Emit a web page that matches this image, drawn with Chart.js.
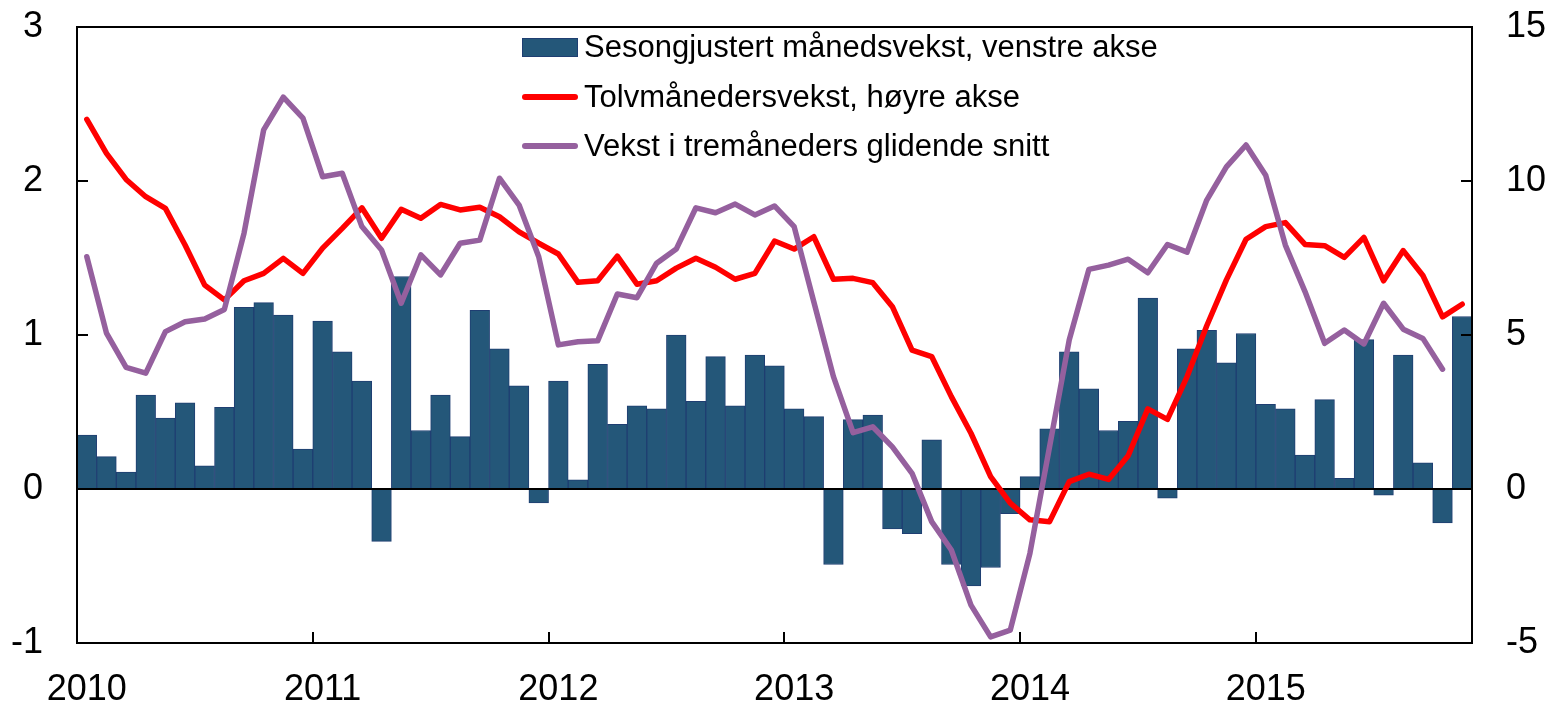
<!DOCTYPE html>
<html lang="no">
<head>
<meta charset="utf-8">
<title>Månedsvekst</title>
<script src="https://cdn.jsdelivr.net/npm/chart.js@4.4.1/dist/chart.umd.min.js"></script>
<style>
  html, body { margin: 0; padding: 0; background: #fff; }
  #wrap { position: relative; width: 1551px; height: 704px; }
  #chart { display: block; }
  #legende {
    position: absolute; left: 522px; top: 0;
    font-family: 'Liberation Sans', Arial, sans-serif; font-size: 31px; color: #000;
  }
  .leg-item { position: absolute; left: 0; height: 36px; display: flex; align-items: center; white-space: nowrap; }
  .leg-bar  { width: 54px; height: 17px; border: 1px solid #1F3E72; margin-right: 6px; }
  .leg-line { width: 56px; height: 6px; border-radius: 3px; margin-right: 6px; }
</style>
</head>
<body>
<div id="wrap">
  <canvas id="chart" width="1551" height="704"></canvas>
  <div id="legende"></div>
</div>

<script>
/* ---- Data ---- */
const aar = ['2010', '2011', '2012', '2013', '2014', '2015'];
const maaneder = ['01', '02', '03', '04', '05', '06', '07', '08', '09', '10', '11', '12'];
const sisteMaaned = '2015-11';

// Sesongjustert månedsvekst, venstre akse
const maanedsvekst = [
  0.35, 0.21, 0.11, 0.61, 0.46, 0.56, 0.15, 0.53, 1.18, 1.21, 1.13, 0.26,
  1.09, 0.89, 0.70, -0.34, 1.38, 0.38, 0.61, 0.34, 1.16, 0.91, 0.67, -0.09,
  0.70, 0.06, 0.81, 0.42, 0.54, 0.52, 1.00, 0.57, 0.86, 0.54, 0.87, 0.80,
  0.52, 0.47, -0.49, 0.45, 0.48, -0.26, -0.29, 0.32, -0.49, -0.63, -0.51, -0.16,
  0.08, 0.39, 0.89, 0.65, 0.38, 0.44, 1.24, -0.06, 0.91, 1.03, 0.82, 1.01,
  0.55, 0.52, 0.22, 0.58, 0.07, 0.97, -0.04, 0.87, 0.17, -0.22, 1.12,
];

// Tolvmånedersvekst, høyre akse
const tolvmaanedersvekst = [
  12.0, 10.9, 10.05, 9.49, 9.11, 7.92, 6.62, 6.14, 6.76, 7.0, 7.49, 7.0,
  7.82, 8.46, 9.13, 8.14, 9.08, 8.79, 9.24, 9.06, 9.15, 8.84, 8.35, 7.98,
  7.63, 6.71, 6.76, 7.56, 6.65, 6.76, 7.17, 7.49, 7.2, 6.81, 7.0, 8.05,
  7.79, 8.19, 6.81, 6.84, 6.70, 5.92, 4.51, 4.3, 3.0, 1.81, 0.4, -0.46,
  -1.0, -1.06, 0.24, 0.48, 0.31, 1.08, 2.6, 2.26, 3.65, 5.3, 6.79, 8.11,
  8.52, 8.65, 7.94, 7.9, 7.52, 8.17, 6.76, 7.74, 6.93, 5.59, 6.0,
];

// Vekst i tremåneders glidende snitt
const tremaanedersvekst = [
  7.54, 5.06, 3.95, 3.76, 5.11, 5.43, 5.52, 5.83, 8.3, 11.66, 12.72, 12.04,
  10.14, 10.25, 8.52, 7.76, 6.03, 7.6, 6.95, 7.98, 8.08, 10.09, 9.22, 7.54,
  4.68, 4.78, 4.81, 6.33, 6.21, 7.33, 7.79, 9.13, 8.97, 9.25, 8.9, 9.19,
  8.52, 6.08, 3.65, 1.83, 2.02, 1.37, 0.51, -1.06, -1.98, -3.77, -4.8, -4.58,
  -2.09, 1.37, 4.84, 7.13, 7.27, 7.46, 7.02, 7.94, 7.69, 9.38, 10.46, 11.17,
  10.19, 7.92, 6.41, 4.73, 5.16, 4.71, 6.03, 5.19, 4.89, 3.89, null,
];

/* ---- Styles ---- */
const FARGE_SOYLE  = '#245779';
const KANT_SOYLE   = '#1F3E72';
const FARGE_TOLV   = '#FF0000';
const FARGE_TRE    = '#95609E';
const TICK_LENGDE  = 11;

const etiketter = [];
aar.forEach(a => maaneder.forEach(m => {
  const lbl = `${a}-${m}`;
  if (lbl <= sisteMaaned) etiketter.push(lbl);
}));

Chart.defaults.font.family = "'Liberation Sans', Arial, sans-serif";
Chart.defaults.color = '#000';

/* Zero line between bars and lines, frame and inward ticks on top */
const rammePlugin = {
  id: 'ramme',
  afterDatasetDraw(chart, args) {
    if (args.index !== 0) return;
    const { ctx, chartArea: a, scales } = chart;
    const y0 = scales.y.getPixelForValue(0);
    ctx.save();
    ctx.strokeStyle = '#000';
    ctx.lineWidth = 2;
    ctx.beginPath();
    ctx.moveTo(a.left, y0);
    ctx.lineTo(a.right, y0);
    ctx.stroke();
    ctx.restore();
  },
  afterDraw(chart) {
    const { ctx, chartArea: a, scales } = chart;
    ctx.save();
    ctx.strokeStyle = '#000';
    ctx.lineWidth = 2;
    ctx.strokeRect(a.left, a.top, a.right - a.left, a.bottom - a.top);

    ctx.beginPath();
    scales.y.ticks.forEach(t => {
      const y = Math.round(scales.y.getPixelForValue(t.value));
      ctx.moveTo(a.left, y);
      ctx.lineTo(a.left + TICK_LENGDE, y);
    });
    scales.y2.ticks.forEach(t => {
      const y = Math.round(scales.y2.getPixelForValue(t.value));
      ctx.moveTo(a.right, y);
      ctx.lineTo(a.right - TICK_LENGDE, y);
    });
    etiketter.forEach((lbl, i) => {
      if (i === 0 || !lbl.endsWith('-01')) return;
      const x = Math.round((scales.x.getPixelForValue(i - 1) + scales.x.getPixelForValue(i)) / 2);
      ctx.moveTo(x, a.bottom);
      ctx.lineTo(x, a.bottom - TICK_LENGDE);
    });
    ctx.stroke();
    ctx.restore();
  },
};

// fixed axis sizes, and no extra top/bottom room for the tick padding
const tilpassY = bredde => s => {
  s.width = bredde;
  s.paddingTop = 0;
  s.paddingBottom = 0;
};

document.addEventListener('DOMContentLoaded', () => {
  const datasets = [
    {
      type: 'bar',
      label: 'Sesongjustert månedsvekst, venstre akse',
      data: maanedsvekst,
      yAxisID: 'y',
      backgroundColor: FARGE_SOYLE,
      borderColor: KANT_SOYLE,
      borderWidth: 1,
      categoryPercentage: 1,
      barPercentage: 1,
      order: 3,
    },
    {
      type: 'line',
      label: 'Tolvmånedersvekst, høyre akse',
      data: tolvmaanedersvekst,
      yAxisID: 'y2',
      borderColor: FARGE_TOLV,
      borderWidth: 5.5,
      pointRadius: 0,
      tension: 0,
      borderJoinStyle: 'round',
      borderCapStyle: 'round',
      order: 2,
    },
    {
      type: 'line',
      label: 'Vekst i tremåneders glidende snitt',
      data: tremaanedersvekst,
      yAxisID: 'y2',
      borderColor: FARGE_TRE,
      borderWidth: 5.5,
      pointRadius: 0,
      tension: 0,
      borderJoinStyle: 'round',
      borderCapStyle: 'round',
      order: 1,
    },
  ];

  new Chart(document.getElementById('chart'), {
    data: { labels: etiketter, datasets },
    options: {
      responsive: false,
      animation: false,
      devicePixelRatio: 1,
      layout: { padding: { top: 27, left: 0, right: 0, bottom: 0 } },
      plugins: { legend: { display: false }, tooltip: { enabled: false } },
      scales: {
        x: {
          type: 'category',
          offset: true,
          grid: { display: false, drawTicks: false },
          border: { display: false },
          ticks: {
            autoSkip: false, maxRotation: 0, minRotation: 0, padding: 25,
            font: { size: 36 },
            callback: (v, i) => etiketter[i].endsWith('-01') ? etiketter[i].slice(0, 4) : '',
          },
          afterFit: s => { s.height = 61; s.paddingLeft = 0; s.paddingRight = 0; },
        },
        y: {
          position: 'left', min: -1, max: 3,
          grid: { display: false, drawTicks: false },
          border: { display: false },
          ticks: { stepSize: 1, padding: 34, font: { size: 36 } },
          afterFit: tilpassY(77),
        },
        y2: {
          position: 'right', min: -5, max: 15,
          grid: { display: false, drawTicks: false },
          border: { display: false },
          ticks: { stepSize: 5, padding: 34, font: { size: 36 } },
          afterFit: tilpassY(79),
        },
      },
    },
    plugins: [rammePlugin],
  });

  /* ---- Legend inside the plot area ---- */
  const legende = document.getElementById('legende');
  const radMidt = [47, 97, 146];
  datasets.forEach((ds, i) => {
    const item = document.createElement('div');
    item.className = 'leg-item';
    item.style.top = (radMidt[i] - 18) + 'px';
    const swatch = document.createElement('span');
    if (ds.type === 'bar') {
      swatch.className = 'leg-bar';
      swatch.style.background = ds.backgroundColor;
    } else {
      swatch.className = 'leg-line';
      swatch.style.background = ds.borderColor;
    }
    const tekst = document.createElement('span');
    tekst.textContent = ds.label;
    item.append(swatch, tekst);
    legende.appendChild(item);
  });
});
</script>
</body>
</html>
